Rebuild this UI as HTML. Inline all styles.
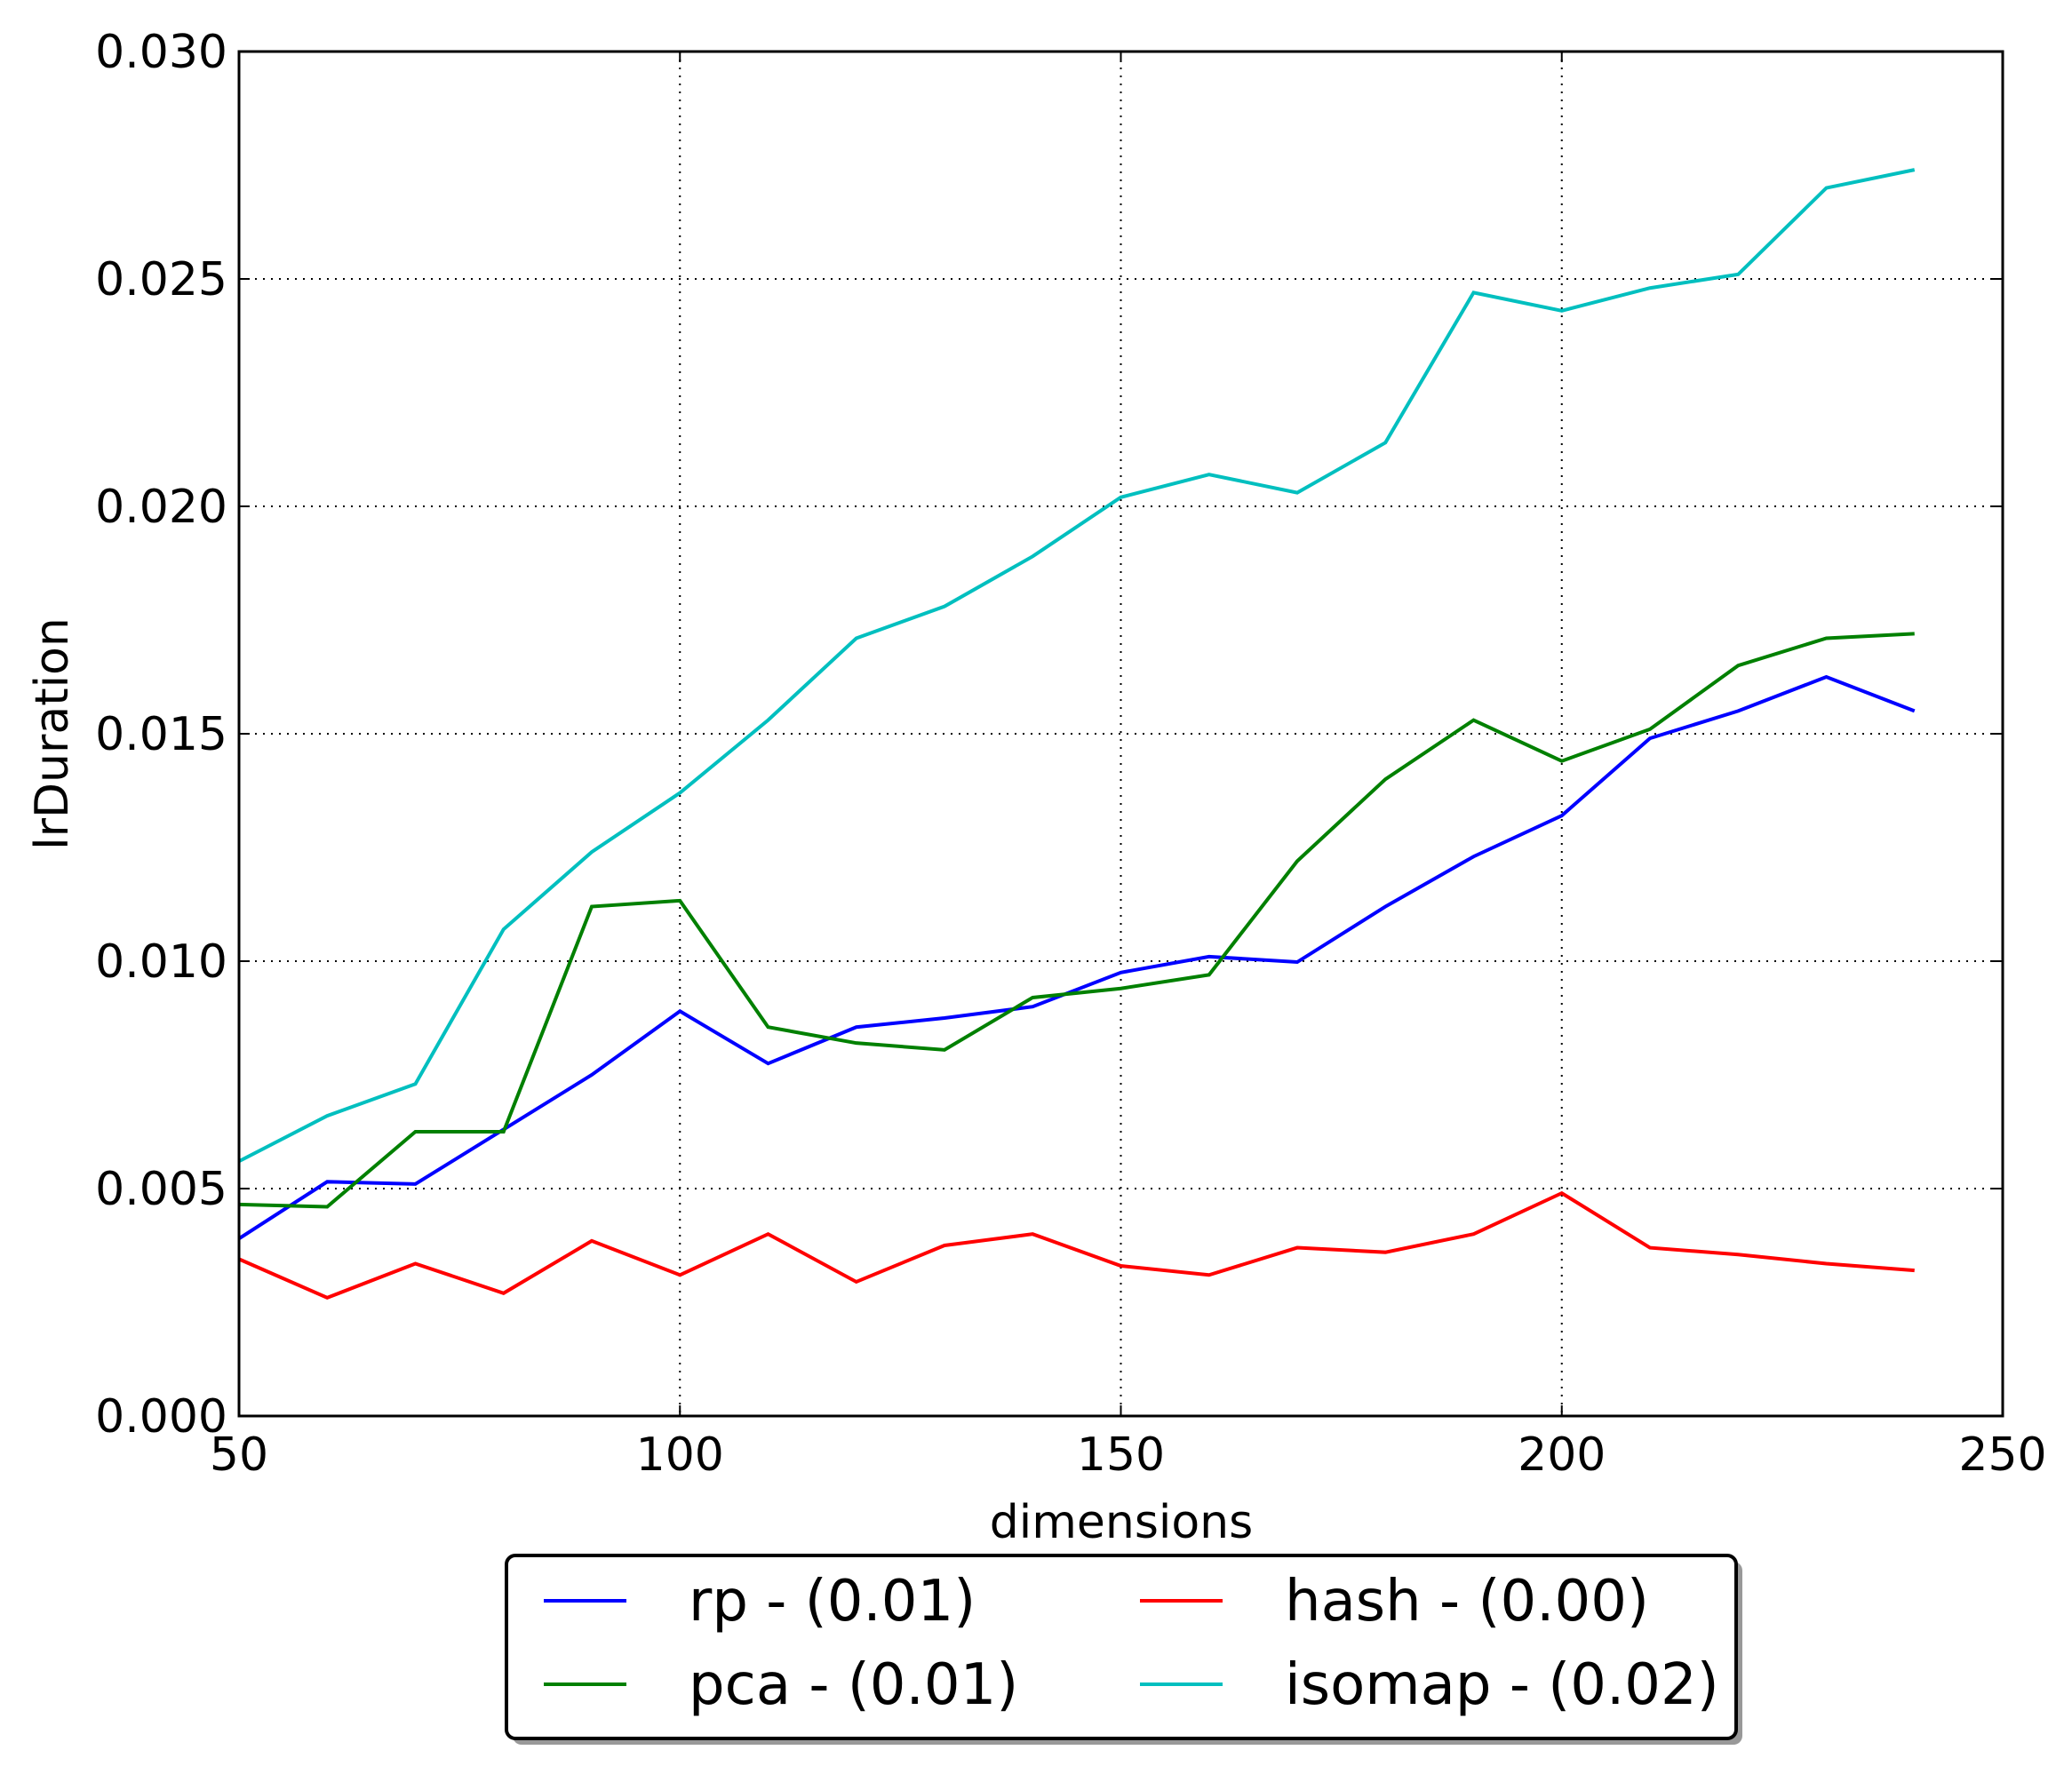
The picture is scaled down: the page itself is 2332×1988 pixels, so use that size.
<!DOCTYPE html>
<html><head><meta charset="utf-8"><style>html,body{margin:0;padding:0;background:#fff}svg{display:block}text{font-family:"DejaVu Sans","Liberation Sans",sans-serif}</style></head>
<body>
<svg id="chart" width="2332" height="1988" viewBox="0 0 2332 1988" xmlns="http://www.w3.org/2000/svg">
<g id="grid"></g>
<g id="series"></g>
<rect x="269" y="58" width="1985" height="1536" fill="none" stroke="#000" stroke-width="3"/>
<g id="ticks"></g>
<text x="1262" y="1731" font-size="52" text-anchor="middle">dimensions</text>
<text x="0" y="0" font-size="52" text-anchor="middle" transform="translate(76,826) rotate(-90)">lrDuration</text>
<g id="legend">
<rect x="577" y="1758" width="1384" height="206" rx="10" fill="#999"/>
<rect x="570" y="1751" width="1384" height="206" rx="10" fill="#fff" stroke="#000" stroke-width="4"/>
</g>
</svg>
<script>
const xValues=[50,60,70,80,90,100,110,120,130,140,150,160,170,180,190,200,210,220,230,240];
const rpValues=[0.0039,0.00515,0.0051,0.0063,0.0075,0.0089,0.00775,0.00855,0.00875,0.009,0.00975,0.0101,0.00998,0.0112,0.0123,0.0132,0.0149,0.0155,0.01625,0.0155];
const pcaValues=[0.00465,0.0046,0.00625,0.00625,0.0112,0.01133,0.00855,0.0082,0.00805,0.0092,0.0094,0.0097,0.0122,0.0140,0.0153,0.0144,0.0151,0.0165,0.0171,0.0172];
const hashValues=[0.00345,0.0026,0.00335,0.0027,0.00385,0.0031,0.004,0.00295,0.00375,0.004,0.0033,0.0031,0.0037,0.0036,0.004,0.0049,0.0037,0.00355,0.00335,0.0032];
const isomapValues=[0.0056,0.0066,0.0073,0.0107,0.0124,0.0137,0.0153,0.0171,0.0178,0.0189,0.0202,0.0207,0.0203,0.0214,0.0247,0.0243,0.0248,0.0251,0.0270,0.0274];
const xTicks=[50,100,150,200,250];
const yTicks=[0,0.005,0.01,0.015,0.02,0.025,0.03];
const yTickLabels=["0.000","0.005","0.010","0.015","0.020","0.025","0.030"];
const seriesNames=["rp","pca","hash","isomap"];
const legendLabels=["rp - (0.01)","pca - (0.01)","hash - (0.00)","isomap - (0.02)"];

const NS="http://www.w3.org/2000/svg";
const L=269,R=2254,T=58,B=1594;
const xs=v=>L+(v-50)/200*(R-L);
const ys=v=>B-v/0.03*(B-T);
function mk(tag,attrs,parent){const e=document.createElementNS(NS,tag);for(const k in attrs)e.setAttribute(k,attrs[k]);parent.appendChild(e);return e;}
const grid=document.getElementById('grid'),ticks=document.getElementById('ticks'),series=document.getElementById('series'),legend=document.getElementById('legend');
xTicks.forEach(v=>{
  const x=xs(v);
  if(v>50&&v<250){const g=mk('line',{x1:x,x2:x,y1:T,y2:B,stroke:'#000','stroke-width':2,'stroke-dasharray':'2,7'},grid);
  
  }
  const t1=mk('line',{x1:x,x2:x,y1:B,y2:B-12,stroke:'#000','stroke-width':2},ticks);
  
  
  const t2=mk('line',{x1:x,x2:x,y1:T,y2:T+12,stroke:'#000','stroke-width':2},ticks);
  
  
  const tx=mk('text',{x:x,y:1655,'font-size':52,'text-anchor':'middle'},ticks);
  tx.textContent=v;
  
  
});
yTicks.forEach((v,i)=>{
  const y=ys(v);
  if(i>0&&i<yTicks.length-1){const g=mk('line',{x1:L,x2:R,y1:y,y2:y,stroke:'#000','stroke-width':2,'stroke-dasharray':'2,7'},grid);
  
  }
  const t1=mk('line',{x1:L,x2:L+12,y1:y,y2:y,stroke:'#000','stroke-width':2},ticks);
  
  
  const t2=mk('line',{x1:R,x2:R-12,y1:y,y2:y,stroke:'#000','stroke-width':2},ticks);
  
  
  const tx=mk('text',{x:256,y:y+18,'font-size':52,'text-anchor':'end'},ticks);
  tx.textContent=yTickLabels[i];
  
  
});
const colors=['#0000ff','#008000','#ff0000','#00bfbf'];
[rpValues,pcaValues,hashValues,isomapValues].forEach((vals,si)=>{
  const p=mk('polyline',{points:vals.map((v,i)=>xs(xValues[i])+','+ys(v)).join(' '),fill:'none',stroke:colors[si],'stroke-width':4,'stroke-linejoin':'miter'},series);
  
  
});
const lpos=[[612,1802],[612,1896],[1283,1802],[1283,1896]];
legendLabels.forEach((lab,i)=>{
  const [lx,ly]=lpos[i];
  const ln=mk('line',{x1:lx,x2:lx+93,y1:ly,y2:ly,stroke:colors[i],'stroke-width':4},legend);
  
  
  const tx=mk('text',{x:lx+163,y:ly+22,'font-size':64},legend);
  tx.textContent=lab;
  
  
});
</script>
</body></html>
